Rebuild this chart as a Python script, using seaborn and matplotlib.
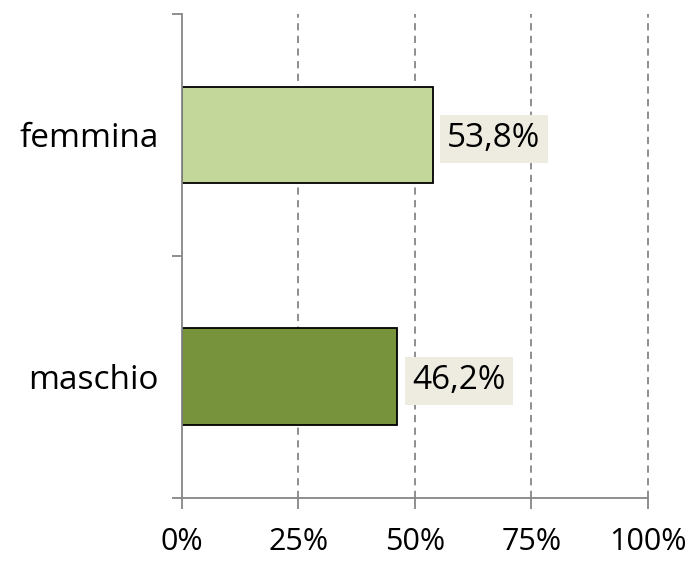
import pandas as pd
import matplotlib.pyplot as plt
import seaborn as sns

# data
categories = ['femmina', 'maschio']
values = [53.8, 46.2]
labels = ['53,8%', '46,2%']
colors = ['#c4d79b', '#77933c']

df = pd.DataFrame({'sesso': categories, 'perc': values})

sns.set_style('white')
plt.rcParams['font.family'] = ['Open Sans', 'DejaVu Sans']
plt.rcParams['text.color'] = 'black'
plt.rcParams['xtick.color'] = 'black'
plt.rcParams['ytick.color'] = 'black'

fig = plt.figure(figsize=(6.92, 5.61), dpi=100)
ax = fig.add_axes([0.263, 0.113, 0.6734, 0.862])

sns.barplot(data=df, y='sesso', x='perc', hue='sesso', palette=colors,
            orient='h', width=0.4, edgecolor='black', linewidth=1.3,
            saturation=1, legend=False, ax=ax)

# value labels with beige box
for i, (v, lab) in enumerate(zip(values, labels)):
    ax.annotate(lab, xy=(v, i), xytext=(10.5, 0), textcoords='offset points',
                va='center_baseline', ha='left', fontsize=24, color='black',
                bbox=dict(boxstyle='square,pad=0.22', fc='#eeece1', ec='none'))

ax.set_xlim(0, 100)
ax.set_ylim(1.5, -0.5)
ax.set_xticks([0, 25, 50, 75, 100])
ax.set_xticklabels(['0%', '25%', '50%', '75%', '100%'])
ax.set_yticks([-0.5, 0.5, 1.5], minor=False)
ax.set_yticks([0, 1], minor=True)
ax.set_yticklabels([], minor=False)
ax.set_yticklabels(categories, minor=True)
ax.tick_params(axis='y', which='major', length=7, width=1.3, color='#868686', left=True)
ax.tick_params(axis='y', which='minor', length=0, pad=17, labelsize=24)
ax.tick_params(axis='x', length=8, width=1.3, color='#868686', bottom=True,
               pad=13, labelsize=22)
ax.set_xlabel('')
ax.set_ylabel('')

# dashed vertical gridlines
for g in [25, 50, 75, 100]:
    ax.axvline(g, color='#868686', linestyle=(0, (4, 3)), linewidth=1.3,
               zorder=0, clip_on=False)

for s in ['top', 'right']:
    ax.spines[s].set_visible(False)
for s in ['left', 'bottom']:
    ax.spines[s].set_color('#868686')
    ax.spines[s].set_linewidth(1.3)

plt.savefig('out.png', dpi=100)
